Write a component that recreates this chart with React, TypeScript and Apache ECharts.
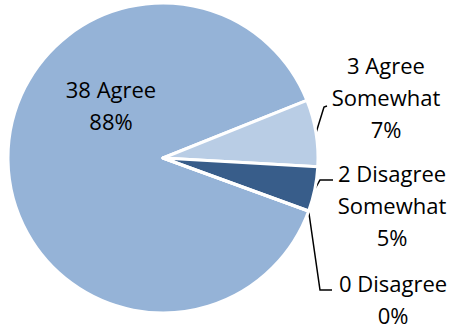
import React, { useEffect, useRef } from "react";
import * as echarts from "echarts";

const categories = ["Agree", "Agree Somewhat", "Disagree Somewhat", "Disagree"];
const counts = [38, 3, 2, 0];
const colors = ["#95B3D7", "#B9CDE5", "#385D8A", "#254061"];

// label placement (layout only)
const LABEL_LAYOUT: { x: number; y: number; line?: number[][] }[] = [
  { x: 111, y: 105 },
  { x: 386, y: 97, line: [[324, 107], [327, 106]] },
  { x: 392, y: 205, line: [[320, 180], [333, 180]] },
  { x: 393, y: 299, line: [[320, 290], [332, 290]] },
];

export default function App() {
  const ref = useRef<HTMLDivElement>(null);
  useEffect(() => {
    if (!ref.current) return;
    const chart = echarts.init(ref.current, undefined, { renderer: "svg" });
    chart.setOption({
      animation: false,
      backgroundColor: "#ffffff",
      series: [
        {
          type: "pie",
          center: [163, 158],
          radius: 155,
          startAngle: -20,
          clockwise: true,
          avoidLabelOverlap: false,
          percentPrecision: 0,
          itemStyle: { borderColor: "#ffffff", borderWidth: 3 },
          label: {
            show: true,
            position: "outside",
            color: "#000000",
            fontFamily: "Open Sans",
            fontSize: 22,
            lineHeight: 32,
            align: "center",
            formatter: (p: any) =>
              `${p.value} ${String(p.name).replace(" Somewhat", "\nSomewhat")}\n${p.percent}%`,
          },
          labelLine: {
            show: true,
            lineStyle: { color: "#000000", width: 1.5 },
          },
          labelLayout: (p: any) => {
            const L = LABEL_LAYOUT[p.dataIndex];
            const res: any = { x: L.x, y: L.y, align: "center", verticalAlign: "middle" };
            if (L.line && p.labelLinePoints && p.labelLinePoints.length) {
              res.labelLinePoints = [p.labelLinePoints[0], L.line[0], L.line[1]];
            }
            return res;
          },
          emphasis: { disabled: true },
          data: categories.map((name, i) => ({
            name,
            value: counts[i],
            itemStyle: { color: colors[i] },
            labelLine: { show: i !== 0 },
          })),
        },
      ],
    });
    return () => chart.dispose();
  }, []);
  return (
    <div
      ref={ref}
      style={{ position: "absolute", left: 0, top: 0, width: 457, height: 331 }}
    />
  );
}
